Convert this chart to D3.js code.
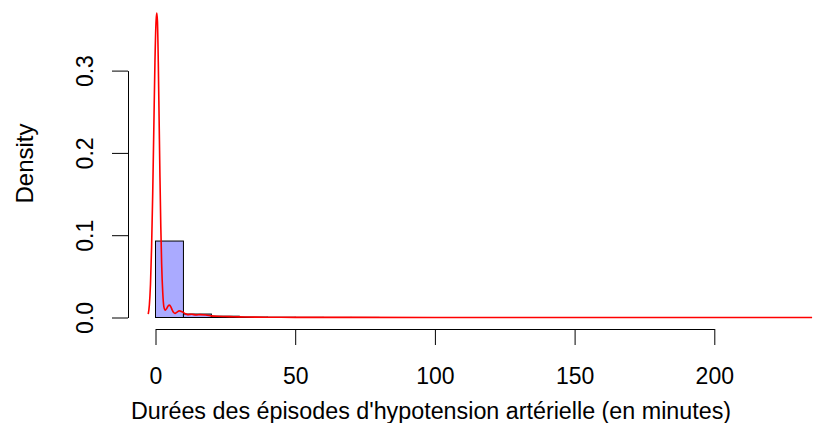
<!DOCTYPE html>
<html>
<head>
<meta charset="utf-8">
<script src="https://cdn.jsdelivr.net/npm/d3@7"></script>
<style>
  body { margin: 0; background: #fff; }
  text { font-family: "Liberation Sans", Arial, sans-serif; }
</style>
</head>
<body>
<script>
'use strict';

// histogram bins (width 10 minutes) and their densities
let binStarts = [0, 10, 20, 30, 40, 50, 60, 70, 80, 90, 100, 110, 120, 130, 140,
                 150, 160, 170, 180, 190, 200, 210, 220, 230, 240];
let binDensity = [0.0929, 0.0042, 0.0016, 0.0005, 0.0003, 0.0002, 0.0001, 0.0001, 0, 0,
                  0, 0, 0, 0, 0, 0, 0, 0, 0, 0, 0, 0, 0, 0, 0.00005];
let binWidth = 10;

// kernel density curve
let densX = [-2.6, -2.2, -1.8, -1.4, -1.0, -0.6, -0.2, 0.2, 0.45, 0.7, 1.0, 1.3, 1.6, 1.9,
             2.2, 2.6, 3.0, 3.5, 4.0, 4.5, 5.0, 5.5, 6.0, 6.5, 7.0, 7.5, 8.5, 9.5,
             10.5, 11.5, 13, 14.5, 16, 18, 20, 22, 25, 28, 32, 40, 50, 70, 100, 150, 200, 235];
let densY = [0.004, 0.015, 0.04, 0.085, 0.15, 0.23, 0.31, 0.36, 0.37, 0.36, 0.31, 0.24, 0.17, 0.11,
             0.065, 0.03, 0.013, 0.009, 0.011, 0.014, 0.015, 0.013, 0.009, 0.006, 0.005, 0.006, 0.008, 0.007,
             0.005, 0.0035, 0.004, 0.003, 0.0035, 0.003, 0.002, 0.0015, 0.0012, 0.001, 0.0006, 0.0003, 0.0002, 0.0001,
             0.00005, 0.00003, 0.00002, 0.00002];

let xTicks = [0, 50, 100, 150, 200];
let yTicks = [0, 0.1, 0.2, 0.3];

let width = 816;
let height = 423;

let svg = d3.select('body')
  .append('svg')
  .attr('width', width)
  .attr('height', height);

let xScale = d3.scaleLinear()
  .domain([0, 200])
  .range([155.5, 714.3]);

let yScale = d3.scaleLinear()
  .domain([0, 0.3])
  .range([317.5, 70.6]);

// histogram bars
svg.selectAll('rect.bar')
  .data(binStarts)
  .enter()
  .append('rect')
    .attr('class', 'bar')
    .attr('x', (d) => xScale(d))
    .attr('y', (d, i) => yScale(binDensity[i]))
    .attr('width', (d) => xScale(d + binWidth) - xScale(d))
    .attr('height', (d, i) => yScale(0) - yScale(binDensity[i]))
    .attr('fill', '#aaaaff')
    .attr('stroke', '#000')
    .attr('stroke-width', 1);

// density curve
let line = d3.line()
  .x((d) => xScale(d[0]))
  .y((d) => yScale(d[1]))
  .curve(d3.curveMonotoneX);

svg.append('path')
  .datum(densX.map((x, i) => [x, densY[i]]))
  .attr('d', line)
  .attr('fill', 'none')
  .attr('stroke', '#ff0000')
  .attr('stroke-width', 1.6);

// x axis
let xAxis = svg.append('g')
  .attr('transform', 'translate(0, 329)')
  .call(d3.axisBottom(xScale).tickValues(xTicks).tickSize(16).tickSizeOuter(0));
xAxis.selectAll('text')
  .attr('dy', null)
  .attr('y', 55)
  .attr('fill', '#000')
  .style('font-size', '23px');

// y axis
let yAxis = svg.append('g')
  .attr('transform', 'translate(128, 0)')
  .call(d3.axisLeft(yScale).tickValues(yTicks).tickSize(16).tickSizeOuter(0)
    .tickFormat(d3.format('.1f')));
yAxis.selectAll('text')
  .attr('x', null)
  .attr('dy', null)
  .attr('text-anchor', 'middle')
  .attr('transform', 'translate(-35.5, 0) rotate(-90)')
  .attr('fill', '#000')
  .style('font-size', '23px');
svg.selectAll('.domain, .tick line').attr('stroke', '#000');

// axis titles
svg.append('text')
  .attr('x', 431)
  .attr('y', 419)
  .style('text-anchor', 'middle')
  .style('font-size', '23.3px')
  .text("Durées des épisodes d'hypotension artérielle (en minutes)");

svg.append('text')
  .attr('transform', 'translate(33, 163.5) rotate(-90)')
  .style('text-anchor', 'middle')
  .style('font-size', '24px')
  .text('Density');
</script>
</body>
</html>
